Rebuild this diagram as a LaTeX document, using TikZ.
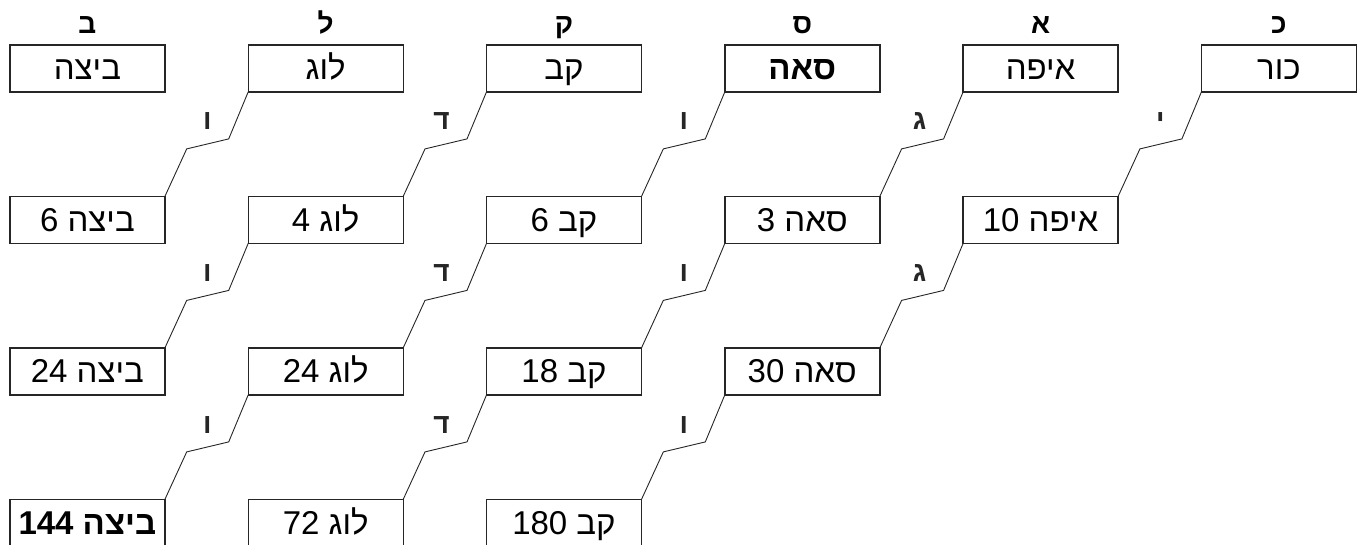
\documentclass[tikz,border=0pt]{standalone}
\usepackage{fontspec}
\setmainfont{Liberation Sans}
\newfontfamily\hebfont[Script=Hebrew]{Liberation Sans}
\TeXXeTstate=1
\usetikzlibrary{matrix}

\tikzset{
	unit/.style={draw, line width=1.4pt, draw=black!85, minimum width=155pt, minimum height=47pt,
		inner sep=0pt, outer sep=0pt, text height=25pt, text depth=2pt,
		font=\hebfont\fontsize{33}{35}\selectfont},
	hdr/.style={anchor=base, font=\hebfont\bfseries\fontsize{28}{30}\selectfont},
	lbl/.style={pos=0.63, left=24pt, inner sep=0pt, font=\hebfont\bfseries\fontsize{28}{30}\selectfont},
	zig/.style={line width=0.9pt, black!85,
		to path={-- ++(-19.5,-47) \tikztonodes -- ++(-42,-10) -- (\tikztotarget)}}
}

\begin{document}
\begin{tikzpicture}[x=1pt, y=1pt]
\useasboundingbox (0,0) rectangle (1359,-544);
\matrix (m) [matrix of nodes, nodes={unit}, column sep=81.9pt, row sep=103.1pt,
	anchor=north west, inner sep=0pt] at (9,-44)
{
	\beginR ביצה\endR & \beginR לוג\endR & \beginR קב\endR & \beginR\bfseries סאה\endR & \beginR איפה\endR & \beginR כור\endR \\
	\beginR ביצה 6\endR & \beginR לוג 4\endR & \beginR קב 6\endR & \beginR סאה 3\endR & \beginR איפה \beginL10\endL\endR & \\
	\beginR ביצה \beginL24\endL\endR & \beginR לוג \beginL24\endL\endR & \beginR קב \beginL18\endL\endR & \beginR סאה \beginL30\endL\endR & & \\
	\beginR\bfseries ביצה \beginL144\endL\endR & \beginR לוג \beginL72\endL\endR & \beginR קב \beginL180\endL\endR & & & \\
};
% letters over the columns
\node[hdr] at ([yshift=11pt]m-1-1.north) {ב};
\node[hdr] at ([yshift=11pt]m-1-2.north) {ל};
\node[hdr] at ([yshift=11pt]m-1-3.north) {ק};
\node[hdr] at ([yshift=11pt]m-1-4.north) {ס};
\node[hdr] at ([yshift=11pt]m-1-5.north) {א};
\node[hdr] at ([yshift=11pt]m-1-6.north) {כ};
\path[zig]
(m-1-2.south west) edge node[lbl] {ו} (m-2-1.north east)
(m-1-3.south west) edge node[lbl] {ד} (m-2-2.north east)
(m-1-4.south west) edge node[lbl] {ו} (m-2-3.north east)
(m-1-5.south west) edge node[lbl] {ג} (m-2-4.north east)
(m-1-6.south west) edge node[lbl] {י} (m-2-5.north east)
(m-2-2.south west) edge node[lbl] {ו} (m-3-1.north east)
(m-2-3.south west) edge node[lbl] {ד} (m-3-2.north east)
(m-2-4.south west) edge node[lbl] {ו} (m-3-3.north east)
(m-2-5.south west) edge node[lbl] {ג} (m-3-4.north east)
(m-3-2.south west) edge node[lbl] {ו} (m-4-1.north east)
(m-3-3.south west) edge node[lbl] {ד} (m-4-2.north east)
(m-3-4.south west) edge node[lbl] {ו} (m-4-3.north east)
;
\end{tikzpicture}
\end{document}
